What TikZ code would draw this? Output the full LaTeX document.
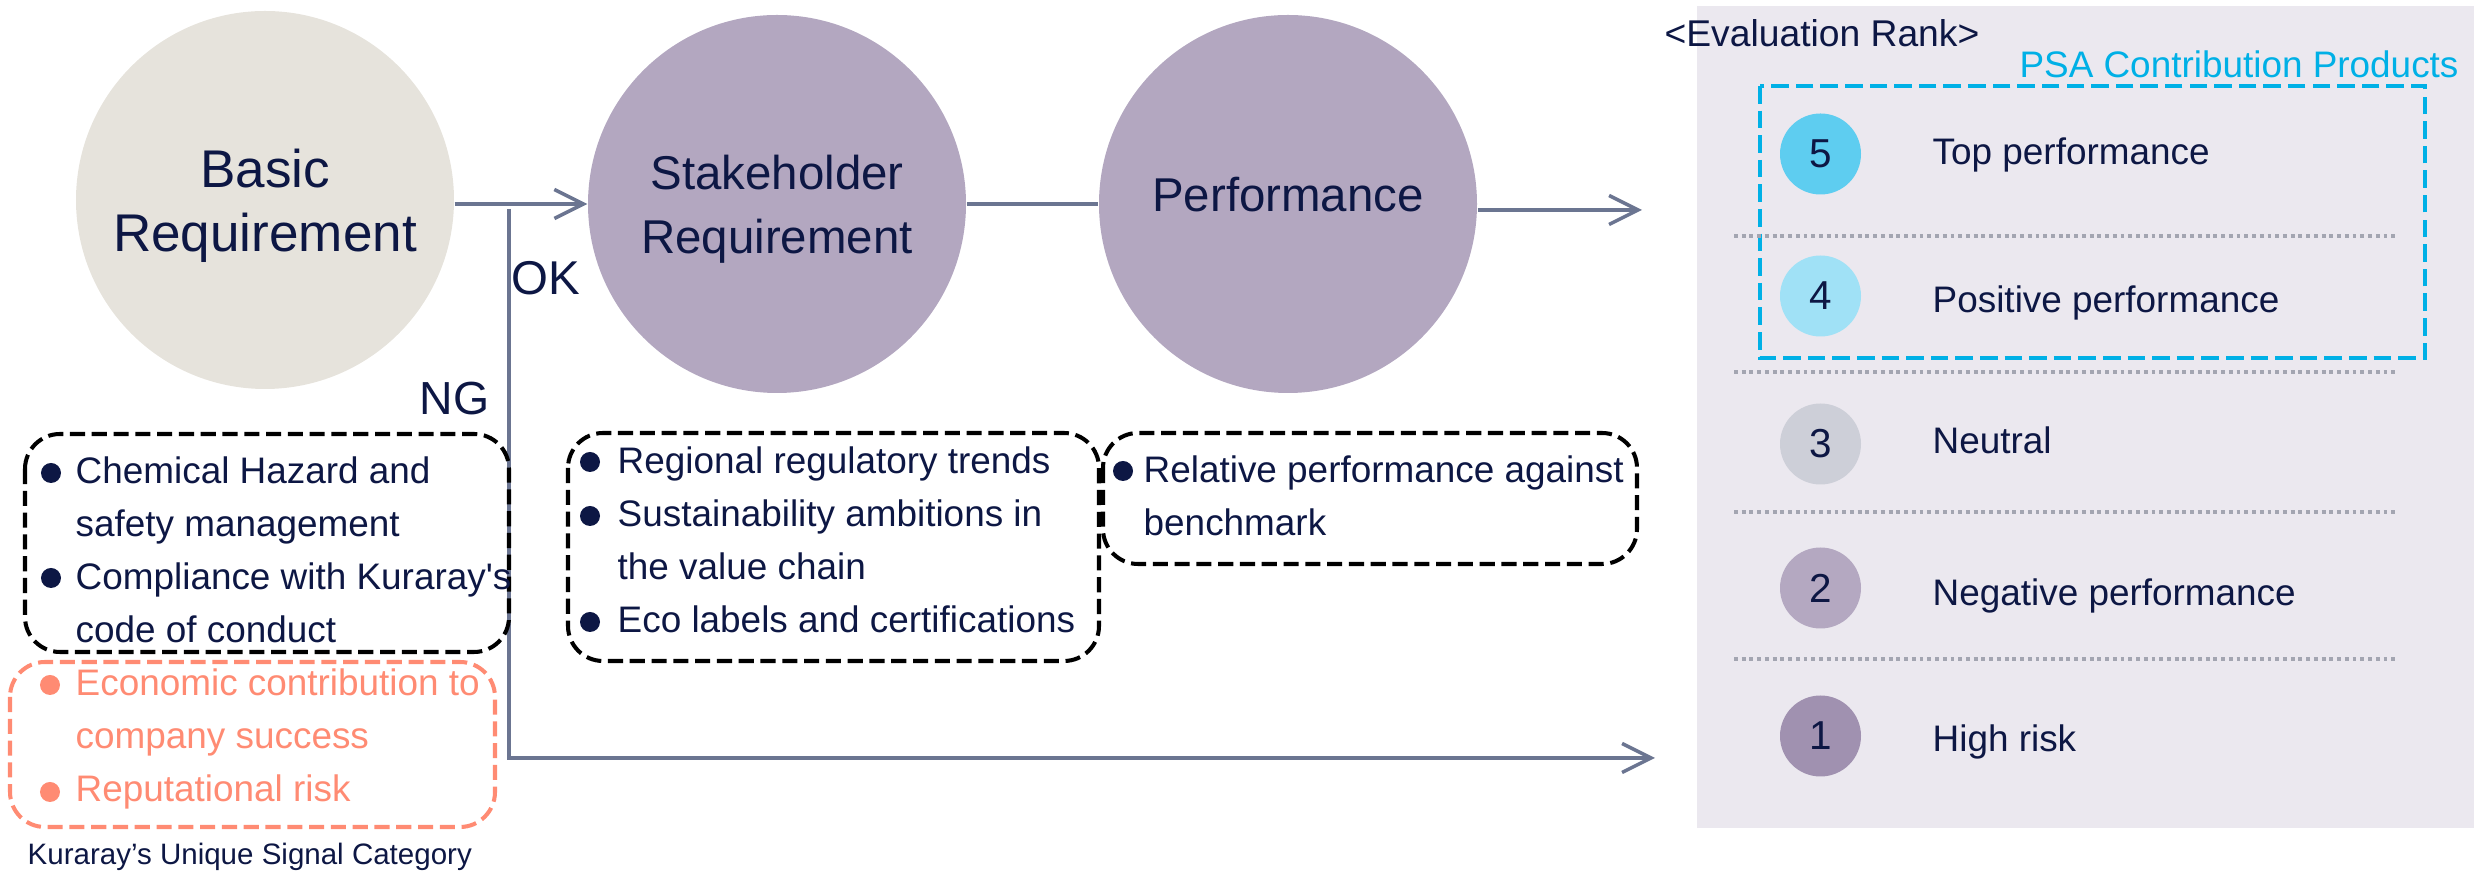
\documentclass[tikz,border=0pt]{standalone}
\usepackage{fontspec}
\setmainfont{Liberation Sans}[Ligatures=TeXOff]
\usetikzlibrary{arrows.meta}

\definecolor{navy}{HTML}{0D1744}
\definecolor{basicfill}{HTML}{E6E3DC}
\definecolor{lavender}{HTML}{B3A7C0}
\definecolor{flowline}{HTML}{6B7591}
\definecolor{salmon}{HTML}{FF8B73}
\definecolor{psacyan}{HTML}{00B0E6}
\definecolor{panel}{HTML}{EBE8EF}
\definecolor{rankfive}{HTML}{5ECDF0}
\definecolor{rankfour}{HTML}{A0E1F6}
\definecolor{rankthree}{HTML}{CDCFD8}
\definecolor{ranktwo}{HTML}{B4A8C1}
\definecolor{rankone}{HTML}{A091B0}
\definecolor{sepgrey}{HTML}{A3A5B1}

\begin{document}
\begin{tikzpicture}[
    text=navy,
    stage/.style={circle, minimum size=3.78cm, inner sep=0pt, align=center},
    flow/.style={draw=flowline, line width=1pt},
    tip/.style={-{Straight Barb[length=2.9mm,width=2.9mm]}},
    listbox/.style={line width=1.15pt, dash pattern=on 4.3pt off 1.9pt, rounded corners=3.5mm},
    listtext/.style={anchor=north west, inner sep=0pt, align=left, font=\fontsize{10.5}{15.1}\selectfont},
    rank/.style={circle, minimum size=0.81cm, inner sep=0pt, font=\fontsize{11.5}{12}\selectfont},
    ranklabel/.style={anchor=base west, inner sep=0pt, font=\fontsize{10.5}{12}\selectfont},
    sep/.style={draw=sepgrey, line width=0.95pt, dash pattern=on 1.1pt off 1.1pt},
]
    \useasboundingbox (0,0) rectangle (24.84,-8.73);

    % stages
    \node[stage, fill=basicfill, font=\fontsize{15.1}{18.2}\selectfont] (basic) at (2.65,-2.00) {Basic\\\smash{Requirement}};
    \node[stage, fill=lavender, font=\fontsize{13.5}{18.2}\selectfont] (stake) at (7.77,-2.04) {Stakeholder\\\smash{Requirement}};
    \node[stage, fill=lavender, font=\fontsize{13.5}{16}\selectfont, text depth=2mm] (perf) at (12.88,-2.04) {Performance};

    % connectors
    \coordinate (split) at (5.09,-2.09);
    \coordinate (ngturn) at (5.09,-7.58);
    \coordinate (ngend) at (16.55,-7.58);
    \coordinate (perfend) at (16.42,-2.10);
    \draw[flow, tip] (basic.east |- stake.west) -- (stake.west);
    \draw[flow] (stake.east) -- (perf.west);
    \draw[flow, tip] (perf.east |- perfend) -- (perfend);
    \draw[flow, tip] (split) -- (ngturn) -- (ngend);

    \node[anchor=base west, inner sep=0pt, font=\fontsize{13.5}{15}\selectfont] (ok) at (5.11,-2.95) {OK};
    \node[anchor=base, inner sep=0pt, font=\fontsize{13.2}{15}\selectfont] (ng) at (4.545,-4.15) {NG};

    % basic requirement list
    \draw[listbox] (0.25,-4.34) rectangle (5.09,-6.52);
    \fill[navy] (0.51,-4.73) circle (0.1);
    \fill[navy] (0.51,-5.78) circle (0.1);
    \node[listtext] (hazard) at (0.75,-4.56) {Chemical Hazard and\\safety management\\Compliance with Kuraray's\\code of conduct};

    % unique signals
    \draw[listbox, draw=salmon] (0.10,-6.62) rectangle (4.95,-8.27);
    \fill[salmon] (0.50,-6.85) circle (0.1);
    \fill[salmon] (0.50,-7.92) circle (0.1);
    \node[listtext, text=salmon] (unique) at (0.75,-6.68) {Economic contribution to\\company success\\Reputational risk};
    \node[anchor=base west, inner sep=0pt, font=\fontsize{8.4}{10}\selectfont] (caption) at (0.27,-8.65) {Kuraray’s Unique Signal Category};

    % stakeholder list
    \draw[listbox] (5.68,-4.33) rectangle (10.99,-6.61);
    \fill[navy] (5.90,-4.62) circle (0.1);
    \fill[navy] (5.90,-5.16) circle (0.1);
    \fill[navy] (5.90,-6.22) circle (0.1);
    \node[listtext] (trends) at (6.17,-4.46) {Regional regulatory trends\\Sustainability ambitions in\\the value chain\\Eco labels and certifications};

    % performance list
    \draw[listbox] (11.03,-4.33) rectangle (16.37,-5.64);
    \fill[navy] (11.23,-4.71) circle (0.1);
    \node[listtext] (bench) at (11.43,-4.55) {Relative performance against\\benchmark};

    % evaluation rank
    \fill[panel] (16.97,-0.06) rectangle (24.74,-8.28);
    \node[inner sep=0pt, font=\fontsize{10.6}{12}\selectfont] (evalrank) at (18.22,-0.33) {<Evaluation Rank>};
    \node[inner sep=0pt, text=psacyan, font=\fontsize{10.5}{12}\selectfont] (psa) at (22.39,-0.64) {PSA Contribution Products};
    \draw[draw=psacyan, line width=1.4pt, dash pattern=on 5pt off 2pt] (17.60,-0.86) rectangle (24.25,-3.58);

    \foreach \y in {2.36,3.72,5.12,6.59}
        \draw[sep] (17.34,-\y) -- (23.98,-\y);

    \foreach \n/\y/\b/\c/\t in {5/1.54/1.65/rankfive/Top performance,
                                4/2.96/3.13/rankfour/Positive performance,
                                3/4.44/4.54/rankthree/Neutral,
                                2/5.88/6.06/ranktwo/Negative performance,
                                1/7.36/7.52/rankone/High risk}{
        \node[rank, fill=\c] (r\n) at (18.205,-\y) {\n};
        \node[ranklabel] (l\n) at (19.32,-\b) {\t};
    }
\end{tikzpicture}
\end{document}
